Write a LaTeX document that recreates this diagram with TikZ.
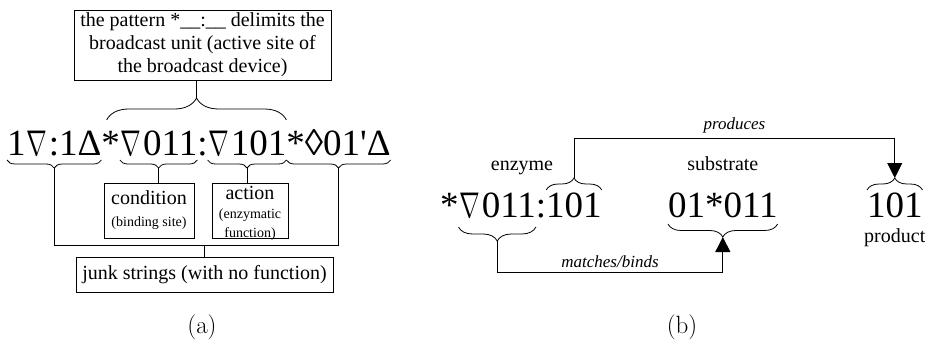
\documentclass[tikz,border=0pt]{standalone}
\usepackage{graphicx}
\usepackage{fontspec}
\usetikzlibrary{decorations.pathreplacing,arrows.meta,calc}
\newfontfamily\tms{Liberation Serif}
\newcommand\nb{\kern0.03em\resizebox{0.56em}{0.66em}{$\nabla$}\kern0.04em}
\begin{document}
\begin{tikzpicture}[x=1pt,y=1pt,
  str/.style={inner sep=0pt, outer sep=0pt, anchor=base west, font=\tms\fontsize{37}{40}\selectfont},
  lbl/.style={inner sep=0pt, font=\tms\fontsize{20}{23}\selectfont},
  box/.style={draw, line width=0.8pt, inner sep=0pt, align=center, font=\tms\fontsize{20}{23}\selectfont},
  ln/.style={line width=0.8pt},
  brc/.style={decorate, line width=0.8pt, decoration={brace, amplitude=#1}},
  it/.style={inner sep=0pt, font=\tms\itshape\fontsize{17}{19}\selectfont},
  arr/.style={line width=0.8pt, -{Triangle[width=15pt,length=15pt]}},
  captxt/.style={font=\fontsize{25}{28}\selectfont},
]
\useasboundingbox (0,0) rectangle (925,-340);

% ---------- (a) ----------
\node[str] (p1) at (7,-155) {1\nb:1Δ};
\node[str] (s1) at (p1.base east) {*};
\node[str] (p2) at (s1.base east) {\nb011};
\node[str] (c1) at (p2.base east) {:};
\node[str] (p3) at (c1.base east) {\nb101};
\node[str] (p4) at (p3.base east) {*◊01'Δ};

\draw[brc=8pt] ([yshift=-5pt]p1.base east) -- ([yshift=-5pt]p1.base west);
\draw[brc=8pt] ([yshift=-5pt]p2.base east) -- ([yshift=-5pt]p2.base west);
\draw[brc=8pt] ([yshift=-5pt]p3.base east) -- ([yshift=-5pt]p3.base west);
\draw[brc=8pt] ([yshift=-5pt]p4.base east) -- ([yshift=-5pt]p4.base west);
\coordinate (t1) at ($(p1.base west)!0.5!(p1.base east)+(0,-13)$);
\coordinate (t2) at ($(p2.base west)!0.5!(p2.base east)+(0,-13)$);
\coordinate (t3) at ($(p3.base west)!0.5!(p3.base east)+(0,-13)$);
\coordinate (t4) at ($(p4.base west)!0.5!(p4.base east)+(0,-13)$);

\draw[brc=22pt] ([yshift=35pt,xshift=-4pt]s1.base) -- ([yshift=35pt]p3.base east);
\coordinate (tt) at ($([xshift=-4pt]s1.base)!0.5!(p3.base east)+(0,57)$);

\node[box, minimum width=257, minimum height=70] (top) at (202.5,-45)
  {the pattern *\_\_:\_\_ delimits the\\broadcast unit (active site of\\the broadcast device)};
\draw[ln] (tt) -- (tt |- top.south);

\node[box, minimum width=90, minimum height=55] (cond) at (149,-210.5)
  {condition\\[-1pt]{\tms\fontsize{14}{15}\selectfont (binding site)}};
\node[box, minimum width=76, minimum height=55] (act) at (250,-210.5) {};
\node[align=center, inner sep=0pt, anchor=north, font=\tms\fontsize{20}{23}\selectfont]
  (acttxt) at ([yshift=-3pt]act.north)
  {action\\[-4pt]{\tms\fontsize{14}{14}\selectfont (enzymatic}\\[-4pt]{\tms\fontsize{14}{14}\selectfont function)}};
\draw[ln] (t2) -- (t2 |- cond.north);
\draw[ln] (t3) -- (t3 |- act.north);

\node[box, minimum width=257, minimum height=35] (junk) at (204.5,-274.5)
  {junk strings (with no function)};
\coordinate (jm) at (junk.north |- 0,-245);
\draw[ln] (t1) -- (t1 |- jm) -- (t4 |- jm) -- (t4);
\draw[ln] (jm) -- (junk.north);

\node[captxt] (la) at (202,-327) {(a)};

% ---------- (b) ----------
\node[str] (e0) at (440,-217) {*};
\node[str] (e1) at (e0.base east) {\nb011};
\node[str] (e2) at (e1.base east) {:};
\node[str] (e3) at (e2.base east) {101};
\node[str] (subs) at (668,-217) {01*011};
\node[str] (prod) at (867,-217) {101};

\node[lbl, anchor=base] (enz) at (522,-170) {enzyme};
\node[lbl, anchor=base] (subl) at ($(subs.base)+(0,47)$) {substrate};
\node[lbl, anchor=base] (prl) at ($(prod.base)+(0,-25)$) {product};

\draw[brc=12pt] ([yshift=27pt]e3.base west) -- ([yshift=27pt]e3.base east);
\coordinate (te3) at ($(e3.base west)!0.5!(e3.base east)+(0,39)$);
\draw[brc=12pt] ([yshift=27pt]prod.base west) -- ([yshift=27pt]prod.base east);
\coordinate (tp) at ($(prod.base west)!0.5!(prod.base east)+(0,39)$);
\draw[brc=14pt] ([yshift=-10pt]e1.base east) -- ([yshift=-10pt]e1.base west);
\coordinate (te1) at ($(e1.base west)!0.5!(e1.base east)+(0,-24)$);
\draw[brc=13pt] ([yshift=-7pt]subs.base east) -- ([yshift=-7pt]subs.base west);
\coordinate (ts) at ($(subs.base west)!0.5!(subs.base east)+(0,-20)$);

\draw[arr] (te3) -- ++(0,40) -| (tp) node[it, pos=0.25, above=4pt] (prodlbl) {produces};
\draw[arr] (te1) -- ++(0,-31) -| (ts) node[it, pos=0.25, above=4pt] (matlbl) {matches/binds};

\node[captxt] (lb) at (682,-327) {(b)};
\end{tikzpicture}
\end{document}
